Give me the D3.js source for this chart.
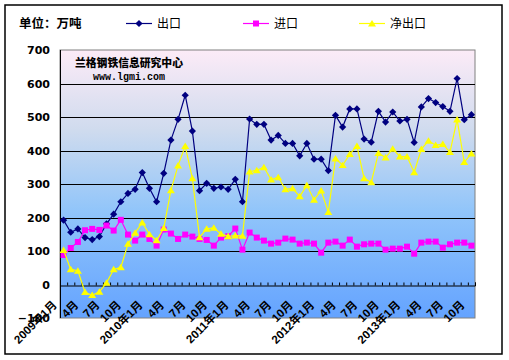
<!DOCTYPE html>
<html><head><meta charset="utf-8">
<script src="https://cdn.jsdelivr.net/npm/d3@7"></script>
<style>
body{margin:0;background:#fff;}
svg{display:block;}
</style></head>
<body><svg id="c" width="509" height="360"></svg>
<script>
// Data: monthly, 2009-01 .. 2013-10 (unit: 10k tonnes)
const startYear = 2009;
const exportVals = [192,156,166,140,134,143,181,210,247,272,284,334,287,247,332,431,493,565,458,280,302,287,291,284,314,247,494,478,478,431,445,421,421,384,421,374,374,340,505,470,524,524,434,425,517,485,515,488,493,424,530,555,543,531,517,615,492,507];
const importVals = [88,109,127,162,166,163,176,161,193,149,131,149,136,116,164,152,136,149,143,136,133,116,140,144,167,104,155,140,131,122,125,137,134,122,125,122,95,125,128,116,134,113,120,122,122,104,107,107,113,92,125,128,128,110,120,125,125,116];
const netVals = [103,45,41,-23,-32,-22,5,45,51,121,154,185,150,132,168,281,355,413,317,141,166,169,151,144,146,145,337,341,350,313,320,284,287,263,296,253,280,216,376,356,389,413,317,305,392,379,405,382,382,335,404,429,416,419,395,492,365,391];
const yTicks = [-100,0,100,200,300,400,500,600,700];
const labelEvery = 3;
const seriesNames = ["出口","进口","净出口"];
const seriesColors = ["#000080","#ff00ff","#ffff00"];

const svg = d3.select("#c");
const L = 60, R = 475, T = 50, B = 318;
const n = exportVals.length;
const idx = d3.range(n);
const x = d3.scaleBand().domain(idx).range([L, R]).paddingInner(0).paddingOuter(0);
const xb = d3.scaleLinear().domain([0, n]).range([L, R]);
const y = d3.scaleLinear().domain([-100, 700]).range([B, T]);
const cx = i => x(i) + x.bandwidth() / 2;

// outer border
svg.append("rect").attr("x",5).attr("y",5).attr("width",497).attr("height",349)
  .attr("fill","#fff").attr("stroke","#000").attr("stroke-width",1.5);

// gradient
const defs = svg.append("defs");
const g = defs.append("linearGradient").attr("id","bg").attr("x1",0).attr("y1",0).attr("x2",0).attr("y2",1);
g.append("stop").attr("offset","0%").attr("stop-color","#fcebf7");
g.append("stop").attr("offset","30%").attr("stop-color","#cfdbee");
g.append("stop").attr("offset","60%").attr("stop-color","#91c5fa");
g.append("stop").attr("offset","100%").attr("stop-color","#64a3ff");
svg.append("rect").attr("x",L).attr("y",T).attr("width",R-L).attr("height",B-T)
  .attr("fill","url(#bg)").attr("stroke","#808080").attr("stroke-width",1);

// gridlines
svg.append("g").selectAll("line").data(yTicks.filter(v => v > 0 && v < 700)).join("line")
  .attr("x1",L).attr("x2",R).attr("y1",d=>Math.round(y(d))+0.5).attr("y2",d=>Math.round(y(d))+0.5)
  .attr("stroke","#000").attr("stroke-width",1);
// left axis line
svg.append("line").attr("x1",L+0.5).attr("x2",L+0.5).attr("y1",T).attr("y2",B).attr("stroke","#000");

// zero axis with ticks up
const y0 = Math.round(y(0)) + 0.5;
const tickAxis = svg.append("g").attr("transform",`translate(0,${y0})`)
  .call(d3.axisTop(xb).tickValues(d3.range(0, n + 1)).tickSize(3).tickFormat(""));
tickAxis.select(".domain").attr("stroke","#000");
tickAxis.selectAll("line").attr("stroke","#000");

// y axis labels
const ya = svg.append("g").attr("transform",`translate(${L-10},0)`)
  .call(d3.axisLeft(y).tickValues(yTicks).tickSize(0).tickPadding(0));
ya.select(".domain").remove();
ya.selectAll("text").attr("font-family","'DejaVu Sans',sans-serif").attr("font-weight","bold")
  .attr("font-size","11px").attr("fill","#000").attr("dy","0.35em");

// x labels
const labIdx = idx.filter(i => i % labelEvery === 0);
const fmt = i => { const m = i % 12 + 1, yr = startYear + Math.floor(i / 12); return m === 1 ? `${yr}年1月` : `${m}月`; };
const xa = svg.append("g").attr("transform",`translate(0,${y0})`)
  .call(d3.axisBottom(x).tickValues(labIdx).tickSize(0).tickFormat(fmt));
xa.select(".domain").remove();
xa.selectAll("text")
  .attr("font-family","'Liberation Sans','Noto Sans CJK SC',sans-serif").attr("font-weight","bold")
  .attr("font-size","11.5px").attr("fill","#000")
  .attr("text-anchor","end").attr("dy",0).attr("y",0)
  .attr("transform","translate(-6,20) rotate(-45)");

// watermark
svg.append("text").attr("x",75).attr("y",67).text("兰格钢铁信息研究中心")
  .attr("font-family","'Noto Sans CJK SC',sans-serif").attr("font-weight","900").attr("font-size","10.8px");
svg.append("text").attr("x",93).attr("y",80).text("www.lgmi.com")
  .attr("font-family","'Liberation Mono',monospace").attr("font-weight","bold").attr("font-size","10px");

// markers
const markerPath = (k, px, py) => {
  if (k === 0) { const s = 3.6; return `M${px},${py-s}L${px+s},${py}L${px},${py+s}L${px-s},${py}Z`; }
  if (k === 1) { const s = 3; return `M${px-s},${py-s}h${2*s}v${2*s}h${-2*s}Z`; }
  const w = 4, h = 3.6; return `M${px},${py-h}L${px+w},${py+h*0.8}L${px-w},${py+h*0.8}Z`;
};

const allSeries = [exportVals, importVals, netVals];
const line = d3.line().x((d,i)=>cx(i)).y(d=>y(d));
allSeries.forEach((vals,k) => {
  const gg = svg.append("g");
  gg.append("path").attr("d", line(vals)).attr("fill","none").attr("stroke",seriesColors[k]).attr("stroke-width",1.2);
  gg.selectAll("path.m").data(vals).join("path").attr("class","m")
    .attr("d",(d,i)=>markerPath(k, cx(i), y(d))).attr("fill",seriesColors[k]);
});

// title
svg.append("text").attr("x",19).attr("y",28).text("单位：万吨")
  .attr("font-family","'Noto Sans CJK SC',sans-serif").attr("font-weight","bold").attr("font-size","12.5px");

// legend
const legX = [126, 243, 359];
seriesNames.forEach((nm,k) => {
  const lg = svg.append("g");
  lg.append("line").attr("x1",legX[k]).attr("x2",legX[k]+26).attr("y1",23.5).attr("y2",23.5)
    .attr("stroke",seriesColors[k]).attr("stroke-width",1.2);
  lg.append("path").attr("d",markerPath(k, legX[k]+13, 23.5)).attr("fill",seriesColors[k]);
  lg.append("text").attr("x",legX[k]+31).attr("y",28).text(nm)
    .attr("font-family","'Noto Sans CJK SC',sans-serif").attr("font-size","12px").attr("fill","#000");
});
</script></body></html>
